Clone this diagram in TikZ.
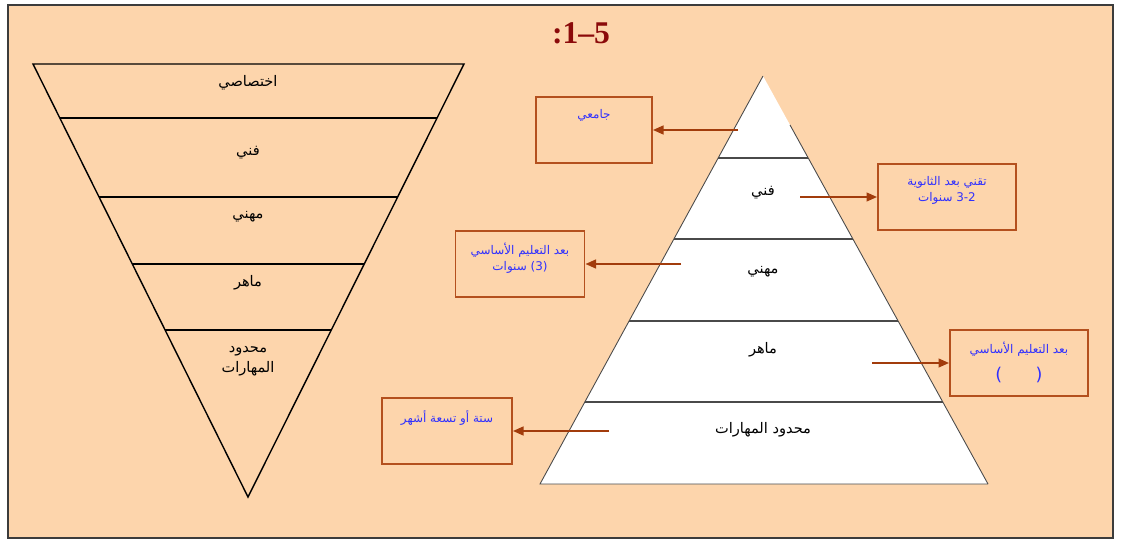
\documentclass[tikz,border=0pt]{standalone}
\usepackage{fontspec}
\setmainfont{Liberation Serif}
\newfontfamily\arabicfont[Script=Arabic]{DejaVu Sans}
\newfontfamily\latinfont{DejaVu Sans}
\TeXXeTstate=1
\usetikzlibrary{positioning, arrows.meta, calc}
\definecolor{pgbg}{HTML}{FDD5AC}
\definecolor{pgframe}{HTML}{3C3C3C}
\definecolor{pgtitle}{HTML}{8B0A0A}
\definecolor{pgbox}{HTML}{B4501E}
\definecolor{pgarrow}{HTML}{A23C0C}
\definecolor{pgblue}{HTML}{3030FF}
\definecolor{pgline}{HTML}{4A4A4A}

\begin{document}
\begin{tikzpicture}[x=0.02cm, y=-0.02cm,
    lvl/.style={font=\arabicfont\fontsize{8.3}{11.5}\selectfont, align=center},
    infobox/.style={draw=pgbox, line width=1.1pt, minimum width=#1, minimum height=1.32cm, inner sep=0pt},
    boxtext/.style={text=pgblue, font=\arabicfont\fontsize{6.8}{9}\selectfont, align=center, anchor=north, yshift=-4pt},
    link/.style={-{Triangle[length=6pt,width=5pt]}, line width=1.1pt, draw=pgarrow}]
  \useasboundingbox (0,0) rectangle (1122,540);
  \fill[white] (0,0) rectangle (1122,540);
  \draw[fill=pgbg, draw=pgframe, line width=1.2pt] (8,5) rectangle (1113,538);

  \node[text=pgtitle, font=\bfseries\fontsize{18}{20}\selectfont] (title) at (581,33) {:1--5};

  % funnel
  \coordinate (fl) at (33,64);
  \coordinate (fr) at (464,64);
  \coordinate (fa) at (248,497);
  \draw[line width=0.8pt] (fl) -- (fr) -- (fa) -- cycle;
  \foreach \t in {0.1247, 0.3072, 0.4619, 0.6143}
    \draw[line width=0.9pt] ($(fl)!\t!(fa)$) -- ($(fr)!\t!(fa)$);
  \node[lvl] (f1) at (248,83) {\beginR اختصاصي\endR};
  \node[lvl] (f2) at (248,153) {\beginR فني\endR};
  \node[lvl] (f3) at (248,217) {\beginR مهني\endR};
  \node[lvl] (f4) at (248,283) {\beginR ماهر\endR};
  \node[lvl] (f5) at (248,361) {\beginR محدود\endR\\\beginR المهارات\endR};

  % pyramid
  \coordinate (pa) at (763,76);
  \coordinate (pl) at (540,484);
  \coordinate (pr) at (988,484);
  \fill[white] (pa) -- (pl) -- (pr) -- cycle;
  \draw[pgline, line width=0.5pt] (pa) -- (pl) -- (pr);
  \draw[pgline, line width=0.5pt] ($(pa)!0.12!(pr)$) -- (pr);
  \foreach \t in {0.2, 0.4, 0.6, 0.8}
    \draw[pgline, line width=1.1pt] ($(pa)!\t!(pl)$) -- ($(pa)!\t!(pr)$);
  \node[lvl] (p2) at (763,193) {\beginR فني\endR};
  \node[lvl] (p3) at (763,272) {\beginR مهني\endR};
  \node[lvl] (p4) at (763,350) {\beginR ماهر\endR};
  \node[lvl] (p5) at (763,430) {\beginR محدود المهارات\endR};

  % boxes
  \node[infobox=2.32cm, label={[boxtext]north:\beginR جامعي\endR}] (uni) at (594,130) {};
  \node[infobox=2.76cm, label={[boxtext]north:{\beginR تقني بعد الثانوية\endR\\\beginR\beginL 3-2\endL\ سنوات\endR}}] (tech) at (947,197) {};
  \node[infobox=2.58cm, label={[boxtext]north:{\beginR بعد التعليم الأساسي\endR\\\beginR\beginL(3)\endL\ سنوات\endR}}] (voc) at (520,264) {};
  \node[infobox=2.76cm, label={[boxtext]north:{\beginR بعد التعليم الأساسي\endR\\[5pt]{\latinfont\fontsize{10}{12}\selectfont(\hspace{1.9em})}}}] (skl) at (1019,363) {};
  \node[infobox=2.6cm, label={[boxtext]north:\beginR ستة أو تسعة أشهر\endR}] (ltd) at (447,431) {};

  \coordinate (s1) at (738,130);
  \coordinate (s2) at (800,197);
  \coordinate (s3) at (681,264);
  \coordinate (s4) at (872,363);
  \coordinate (s5) at (609,431);
  \draw[link] (s1) -- (uni.east);
  \draw[link] (s2) -- (tech.west);
  \draw[link] (s3) -- (voc.east);
  \draw[link] (s4) -- (skl.west);
  \draw[link] (s5) -- (ltd.east);
\end{tikzpicture}
\end{document}
